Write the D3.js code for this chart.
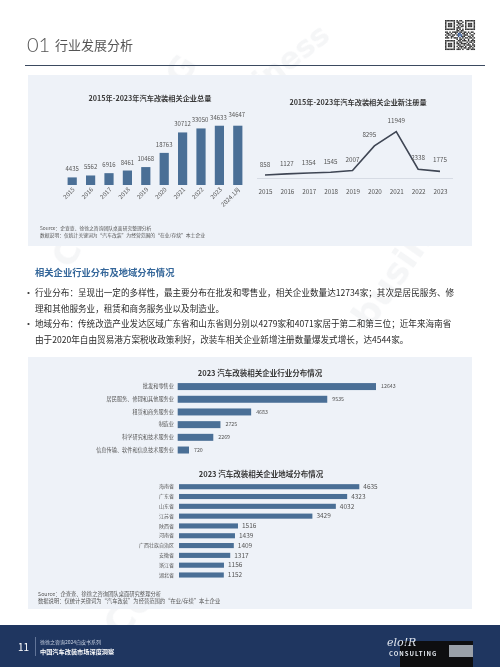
<!DOCTYPE html>
<html>
<head>
<meta charset="utf-8">
<title>汽车改装 行业发展分析</title>
<script src="https://cdnjs.cloudflare.com/ajax/libs/d3/7.8.5/d3.min.js"></script>
<style>
    body { margin: 0; background: #fff; }
    svg { display: block; font-family: "Noto Sans CJK SC", "Noto Sans", sans-serif; }
    .ttl { font-size: 7.2px; font-weight: bold; fill: #3a3a3a; text-anchor: middle; }
    .lbl { fill: #555; }
    .src { font-size: 4.8px; fill: #555; }
    .body { font-size: 8.6px; fill: #2b2b2b; }
</style>
</head>
<body>
<div id="page"></div>
<script>
// ---- data ----
const totalYears = ["2015", "2016", "2017", "2018", "2019", "2020", "2021", "2022", "2023", "2024.1月"];
const totalValues = [4435, 5562, 6916, 8461, 10468, 18763, 30712, 33050, 34633, 34647];

const newYears = ["2015", "2016", "2017", "2018", "2019", "2020", "2021", "2022", "2023"];
const newValues = [858, 1127, 1354, 1545, 2007, 8295, 11949, 2338, 1775];

const industries = ["批发和零售业", "居民服务、修理和其他服务业", "租赁和商务服务业", "制造业", "科学研究和技术服务业", "信息传输、软件和信息技术服务业"];
const industryValues = [12643, 9535, 4683, 2725, 2269, 720];

const regions = ["海南省", "广东省", "山东省", "江苏省", "陕西省", "河南省", "广西壮族自治区", "安徽省", "浙江省", "湖北省"];
const regionValues = [4635, 4323, 4032, 3429, 1516, 1439, 1409, 1317, 1156, 1152];

const bullets = [
    ["行业分布：呈现出一定的多样性，最主要分布在批发和零售业，相关企业数量达12734家；其次是居民服务、修",
     "理和其他服务业，租赁和商务服务业以及制造业。"],
    ["地域分布：传统改造产业发达区域广东省和山东省则分别以4279家和4071家居于第二和第三位；近年来海南省",
     "由于2020年自由贸易港方案税收政策利好，改装车相关企业新增注册数量爆发式增长，达4544家。"]
];

const W = 500, H = 667;
const barColor = "#4a6f96";

const svg = d3.select("#page").append("svg")
    .attr("width", W).attr("height", H);

// watermark
const wm = svg.append("g").attr("fill", "#8a94a6").attr("opacity", 0.09)
    .style("font-family", "DejaVu Sans").style("font-weight", "bold");
[
    { t: "business", x: 215, y: 130, r: -38, s: 30 },
    { t: "CONSULTING", x: 70, y: 270, r: -58, s: 34 },
    { t: "business", x: 370, y: 330, r: -55, s: 36 },
    { t: "CONSULTING", x: 120, y: 640, r: -48, s: 38 },
    { t: "business", x: 385, y: 600, r: -60, s: 34 }
].forEach(d => {
    wm.append("text").attr("transform", `translate(${d.x},${d.y}) rotate(${d.r})`)
        .style("font-size", d.s + "px").text(d.t);
});

// header
svg.append("text").attr("x", 27).attr("y", 52)
    .style("font-size", "20px").style("font-weight", 300).attr("fill", "#555")
    .style("font-family", "Lato, 'Noto Sans'").text("01");
svg.append("text").attr("x", 55).attr("y", 50)
    .style("font-size", "13px").attr("fill", "#555").text("行业发展分析");
svg.append("line").attr("x1", 25).attr("x2", 485).attr("y1", 65.5).attr("y2", 65.5)
    .attr("stroke", "#3b4a60").attr("stroke-width", 1);

// qr code (decorative)
const qrRows = [
    "111111101011001111111",
    "100000101100101000001",
    "101110100111001011101",
    "101110101010101011101",
    "101110100101101011101",
    "100000101110001000001",
    "111111101010101111111",
    "000000001101100000000",
    "110101111011011010110",
    "011010010110110101001",
    "101101101111011100110",
    "010011000101110011010",
    "111010111010101101101",
    "000000001011010010010",
    "111111100110111010111",
    "100000101011000101101",
    "101110101101111010010",
    "101110100110010111011",
    "101110101011101001101",
    "100000100101011011010",
    "111111101110100110111"
];
const qr = svg.append("g").attr("transform", "translate(445,20)");
qr.append("rect").attr("width", 30).attr("height", 30).attr("fill", "#fff");
qrRows.forEach((row, i) => row.split("").forEach((c, j) => {
    if (c === "1") qr.append("rect").attr("x", j * 30 / 21).attr("y", i * 30 / 21)
        .attr("width", 30 / 21 + 0.05).attr("height", 30 / 21 + 0.05)
        .attr("fill", (i > 8 && i < 12 && j > 8 && j < 12) ? "#2c4f8a" : "#333");
}));

// panels
svg.append("rect").attr("x", 28).attr("y", 75).attr("width", 444).attr("height", 171).attr("fill", "#edf1f7").attr("opacity", 0.92);
svg.append("rect").attr("x", 28).attr("y", 357).attr("width", 444).attr("height", 252).attr("fill", "#edf1f7").attr("opacity", 0.92);

// ---- chart 1: totals ----
const x1 = d3.scaleBand().domain(totalYears).range([63, 247]).paddingInner(0.5).paddingOuter(0.25);
const y1 = d3.scaleLinear().domain([0, 35000]).range([185, 125.1]);
const c1 = svg.append("g");
c1.append("text").attr("class", "ttl").attr("x", 150).attr("y", 101).text("2015年-2023年汽车改装相关企业总量");
c1.selectAll("rect.b").data(totalValues).join("rect").attr("class", "b")
    .attr("x", (d, i) => x1(totalYears[i])).attr("width", x1.bandwidth())
    .attr("y", d => y1(d)).attr("height", d => y1(0) - y1(d)).attr("fill", barColor);
c1.selectAll("text.v").data(totalValues).join("text").attr("class", "v lbl")
    .attr("x", (d, i) => x1(totalYears[i]) + x1.bandwidth() / 2 + (i >= 7 ? -1 : 0))
    .attr("y", (d, i) => y1(d) - (i === 9 ? 9 : 6))
    .attr("text-anchor", "middle").style("font-size", "6px").text(d => d);
const ax1 = c1.append("g").attr("transform", "translate(0,185)")
    .call(d3.axisBottom(x1).tickSize(0).tickPadding(0));
ax1.select(".domain").remove();
ax1.selectAll("text").attr("class", "lbl").style("font-size", "6px")
    .style("font-family", "'Noto Sans CJK SC'")
    .attr("text-anchor", "end").attr("dy", 0)
    .attr("transform", "translate(3,5) rotate(-45)");

c1.append("text").attr("class", "src").attr("x", 40).attr("y", 230).text("Source：企查查、徐徐之咨询团队桌面研究整理分析");
c1.append("text").attr("class", "src").attr("x", 40).attr("y", 237).text("数据说明：仅统计关键词为“汽车改装”为经营范围的“在业/存续”本土企业");

// ---- chart 2: new registrations ----
const x2 = d3.scalePoint().domain(newYears).range([265, 440]);
const y2 = d3.scaleLinear().domain([0, 12000]).range([178.3, 131.5]);
const c2 = svg.append("g");
c2.append("text").attr("class", "ttl").attr("x", 358).attr("y", 104.5).text("2015年-2023年汽车改装相关企业新注册量");
c2.append("line").attr("x1", 257).attr("x2", 453).attr("y1", 178.5).attr("y2", 178.5)
    .attr("stroke", "#cfd5de").attr("stroke-width", 0.8);
c2.append("path").datum(newValues)
    .attr("d", d3.line().x((d, i) => x2(newYears[i])).y(d => y2(d)))
    .attr("fill", "none").attr("stroke", "#3f4654").attr("stroke-width", 1.6);
c2.selectAll("text.v").data(newValues).join("text").attr("class", "v lbl")
    .attr("x", (d, i) => x2(newYears[i]) + (i === 5 ? -5 : 0))
    .attr("y", (d, i) => y2(d) - (i < 5 ? 8 : 9))
    .attr("text-anchor", "middle").style("font-size", "6.3px").text(d => d);
const ax2 = c2.append("g").attr("transform", "translate(0,178.5)")
    .call(d3.axisBottom(x2).tickSize(0).tickPadding(11));
ax2.select(".domain").remove();
ax2.selectAll("text").attr("class", "lbl").style("font-size", "6.3px")
    .style("font-family", "'Noto Sans CJK SC'");

// ---- text section ----
svg.append("text").attr("x", 35).attr("y", 275.5).attr("fill", "#35679a")
    .style("font-size", "9.3px").style("font-weight", "bold").text("相关企业行业分布及地域分布情况");
const lineY = [[296, 312], [327, 343]];
bullets.forEach((b, i) => {
    svg.append("circle").attr("cx", 28.5).attr("cy", lineY[i][0] - 3).attr("r", 1.1).attr("fill", "#333");
    b.forEach((t, j) => svg.append("text").attr("class", "body").attr("x", 35).attr("y", lineY[i][j]).text(t));
});

// ---- chart 3: industries ----
const y3 = d3.scaleBand().domain(industries).range([380.3, 456.3]).paddingInner(0.45).paddingOuter(0.22);
const x3 = d3.scaleLinear().domain([0, 12643]).range([177.7, 376]);
const c3 = svg.append("g");
c3.append("text").attr("class", "ttl").attr("x", 260).attr("y", 376).style("font-size", "7.5px")
    .text("2023 汽车改装相关企业行业分布情况");
c3.selectAll("rect").data(industryValues).join("rect")
    .attr("x", x3(0)).attr("y", (d, i) => y3(industries[i]))
    .attr("width", d => x3(d) - x3(0)).attr("height", y3.bandwidth()).attr("fill", barColor);
c3.selectAll("text.v").data(industryValues).join("text").attr("class", "v lbl")
    .attr("x", d => x3(d) + 5).attr("y", (d, i) => y3(industries[i]) + y3.bandwidth() / 2)
    .attr("dy", "0.35em").style("font-size", "5.3px").text(d => d);
const ax3 = c3.append("g").attr("transform", "translate(174,0)")
    .call(d3.axisLeft(y3).tickSize(0).tickPadding(0));
ax3.select(".domain").remove();
ax3.selectAll("text").attr("class", "lbl").style("font-size", "5.2px")
    .style("font-family", "'Noto Sans CJK SC'");

// ---- chart 4: regions ----
const y4 = d3.scaleBand().domain(regions).range([481.8, 579.9]).paddingInner(0.48).paddingOuter(0.24);
const x4 = d3.scaleLinear().domain([0, 4635]).range([179, 359.3]);
const c4 = svg.append("g");
c4.append("text").attr("class", "ttl").attr("x", 261).attr("y", 477).style("font-size", "7.5px")
    .text("2023 汽车改装相关企业地域分布情况");
c4.selectAll("rect").data(regionValues).join("rect")
    .attr("x", x4(0)).attr("y", (d, i) => y4(regions[i]))
    .attr("width", d => x4(d) - x4(0)).attr("height", y4.bandwidth()).attr("fill", barColor);
c4.selectAll("text.v").data(regionValues).join("text").attr("class", "v lbl")
    .attr("x", d => x4(d) + 4).attr("y", (d, i) => y4(regions[i]) + y4.bandwidth() / 2)
    .attr("dy", "0.35em").style("font-size", "6.5px").text(d => d);
const ax4 = c4.append("g").attr("transform", "translate(174,0)")
    .call(d3.axisLeft(y4).tickSize(0).tickPadding(0));
ax4.select(".domain").remove();
ax4.selectAll("text").attr("class", "lbl").style("font-size", "5px")
    .style("font-family", "'Noto Sans CJK SC'");

c4.append("text").attr("class", "src").style("font-size", "5.3px").attr("x", 38).attr("y", 596).text("Source：企查查、徐徐之咨询团队桌面研究整理分析");
c4.append("text").attr("class", "src").style("font-size", "5.3px").attr("x", 38).attr("y", 603).text("数据说明：仅统计关键词为“汽车改装”为经营范围的“在业/存续”本土企业");

// ---- footer ----
const ft = svg.append("g");
ft.append("rect").attr("x", 0).attr("y", 625).attr("width", W).attr("height", H - 625).attr("fill", "#1f3660");
ft.append("text").attr("x", 18).attr("y", 651).attr("fill", "#fff").style("font-size", "10px").text("11");
ft.append("line").attr("x1", 35.5).attr("x2", 35.5).attr("y1", 637).attr("y2", 656).attr("stroke", "#8fa0bd").attr("stroke-width", 0.6);
ft.append("text").attr("x", 40).attr("y", 644).attr("fill", "#c9d2e2").style("font-size", "5px").text("徐徐之咨询2024白皮书系列");
ft.append("text").attr("x", 40).attr("y", 654).attr("fill", "#fff").style("font-size", "6.2px").style("font-weight", "bold").text("中国汽车改装市场深度洞察");
ft.append("rect").attr("x", 400).attr("y", 641).attr("width", 73).attr("height", 26).attr("fill", "#0e0e10");
ft.append("text").attr("x", 387).attr("y", 646).attr("fill", "#dfe5ee").style("font-size", "11px")
    .style("font-style", "italic").style("font-family", "'DejaVu Serif'").text("elo!R");
ft.append("text").attr("x", 389).attr("y", 656).attr("fill", "#e6ebf2").style("font-size", "6px")
    .style("font-weight", "bold").style("letter-spacing", "1px").text("CONSULTING");
ft.append("rect").attr("x", 449).attr("y", 645).attr("width", 24).attr("height", 12).attr("fill", "#9aa0a8");
</script>
</body>
</html>
